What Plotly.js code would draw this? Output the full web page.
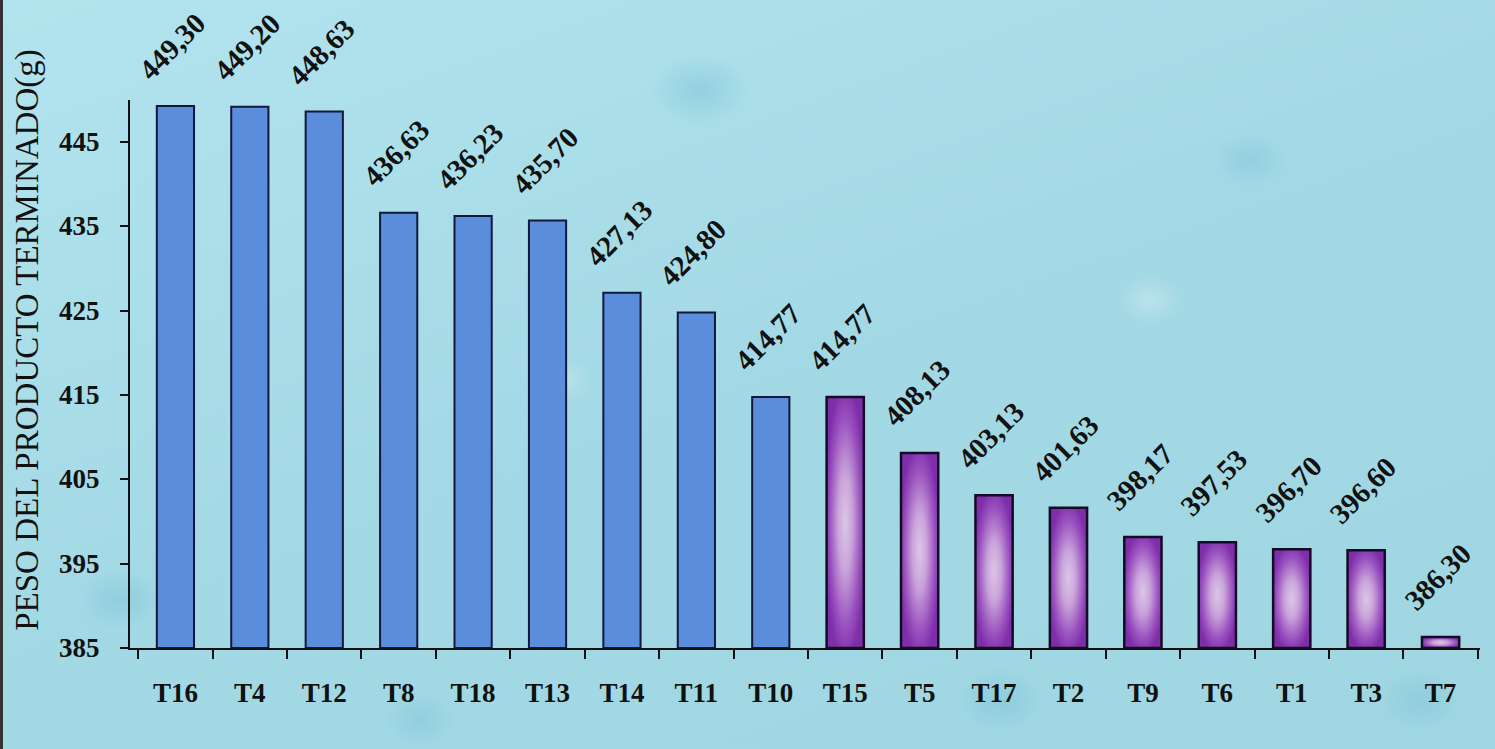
<!DOCTYPE html>
<html>
<head>
<meta charset="utf-8">
<script src="https://cdn.plot.ly/plotly-3.0.1.min.js"></script>
<style>
html,body{margin:0;padding:0;width:1495px;height:749px;overflow:hidden;position:relative;}
body{
  background-color:#a6dce7;
  background-image:
    radial-gradient(ellipse 60px 45px at 120px 600px, rgba(120,190,210,0.45), rgba(120,190,210,0) 70%),
    radial-gradient(ellipse 70px 50px at 700px 90px, rgba(120,190,210,0.45), rgba(120,190,210,0) 70%),
    radial-gradient(ellipse 55px 40px at 1250px 160px, rgba(120,190,210,0.4), rgba(120,190,210,0) 70%),
    radial-gradient(ellipse 65px 48px at 1000px 700px, rgba(120,190,210,0.45), rgba(120,190,210,0) 70%),
    radial-gradient(ellipse 50px 40px at 420px 720px, rgba(120,190,210,0.4), rgba(120,190,210,0) 70%),
    radial-gradient(ellipse 60px 45px at 1420px 700px, rgba(120,190,210,0.4), rgba(120,190,210,0) 70%),
    radial-gradient(ellipse 45px 35px at 560px 380px, rgba(255,255,255,0.25), rgba(255,255,255,0) 70%),
    radial-gradient(ellipse 45px 35px at 1150px 300px, rgba(255,255,255,0.25), rgba(255,255,255,0) 70%),
    linear-gradient(160deg, #b2e4ee 0%, #a3d9e5 50%, #9fd6e2 100%);
}
#edge{position:absolute;left:0;top:0;width:3px;height:749px;background:#333;}
#chart{position:absolute;left:0;top:0;width:1495px;height:749px;}
</style>
</head>
<body>
<div id="edge"></div>
<div id="chart"></div>
<script>
const blueCats = ["T16","T4","T12","T8","T18","T13","T14","T11","T10"];
const blueVals = [449.30,449.20,448.63,436.63,436.23,435.70,427.13,424.80,414.77];
const purpleCats = ["T15","T5","T17","T2","T9","T6","T1","T3","T7"];
const purpleVals = [414.77,408.13,403.13,401.63,398.17,397.53,396.70,396.60,386.30];
const yTicks = [385,395,405,415,425,435,445];

const allCats = blueCats.concat(purpleCats);
const allVals = blueVals.concat(purpleVals);
const fmt = v => v.toFixed(2).replace('.', ',');

const serif = "Liberation Serif";
const yBase = 385;

const traces = [
  {type:'bar', x:blueCats, y:blueVals.map(v=>v-yBase), base:yBase, width:0.5,
   marker:{color:'#5b8ddd', line:{color:'#14173a', width:2}}, hoverinfo:'x+y'},
  {type:'bar', x:purpleCats, y:purpleVals.map(v=>v-yBase), base:yBase, width:0.5,
   marker:{color:'#a46ac4', line:{color:'#150b24', width:2.5}}, hoverinfo:'x+y'}
];

const annotations = allCats.map((c,i)=>({
  x:c, y:allVals[i], xref:'x', yref:'y', text:fmt(allVals[i]),
  textangle:-45, showarrow:false, xanchor:'center', yanchor:'middle',
  yshift:60, xshift:-3,
  font:{family:serif, size:29, color:'#111', weight:'bold'}
}));
yTicks.forEach(t=>annotations.push({
  xref:'paper', yref:'y', x:-0.0205, y:t, text:String(t), showarrow:false,
  xanchor:'right', yanchor:'middle',
  font:{family:serif, size:27, color:'#111', weight:'bold'}
}));
annotations.push({
  xref:'paper', yref:'paper', x:-0.0765, y:0.562, text:'PESO DEL PRODUCTO TERMINADO(g)',
  textangle:-90, showarrow:false, xanchor:'center', yanchor:'middle',
  font:{family:serif, size:33, color:'#111'}
});

const layout = {
  width:1495, height:749,
  margin:{l:130, r:15, t:100, b:101, pad:0},
  paper_bgcolor:'rgba(0,0,0,0)', plot_bgcolor:'rgba(0,0,0,0)',
  showlegend:false, barmode:'overlay',
  xaxis:{type:'category', categoryorder:'array', categoryarray:allCats,
    showline:true, linecolor:'#111', linewidth:2, ticks:'outside', tickson:'boundaries',
    ticklen:9, tickwidth:2, tickcolor:'#111', showgrid:false, zeroline:false,
    ticklabelstandoff:20,
    tickfont:{family:serif, size:27, color:'#111', weight:'bold'}},
  yaxis:{range:[385,450], tickvals:yTicks, showticklabels:false,
    showline:true, linecolor:'#111', linewidth:2, ticks:'outside', ticklen:8,
    tickwidth:2, tickcolor:'#111', showgrid:false, zeroline:false},
  annotations:annotations
};

Plotly.newPlot('chart', traces, layout, {displayModeBar:false, staticPlot:true}).then(gd=>{
  const svg = gd.querySelector('svg.main-svg');
  const ns = 'http://www.w3.org/2000/svg';
  let defs = svg.querySelector('defs');
  if(!defs){defs = document.createElementNS(ns,'defs'); svg.insertBefore(defs, svg.firstChild);}
  const g = document.createElementNS(ns,'radialGradient');
  g.setAttribute('id','purpleGrad');
  g.setAttribute('cx','0.5'); g.setAttribute('cy','0.5'); g.setAttribute('r','0.55');
  [['0','#dcc6e8'],['0.35','#c9a4da'],['0.75','#9a52bf'],['1','#7f2ea9']].forEach(s=>{
    const st = document.createElementNS(ns,'stop');
    st.setAttribute('offset',s[0]); st.setAttribute('stop-color',s[1]);
    g.appendChild(st);
  });
  defs.appendChild(g);
  const traceGroups = gd.querySelectorAll('.barlayer .trace');
  if(traceGroups.length>1){
    traceGroups[1].querySelectorAll('path').forEach(p=>{ p.style.fill='url(#purpleGrad)'; p.style.fillOpacity='1'; });
  }
});
</script>
</body>
</html>
